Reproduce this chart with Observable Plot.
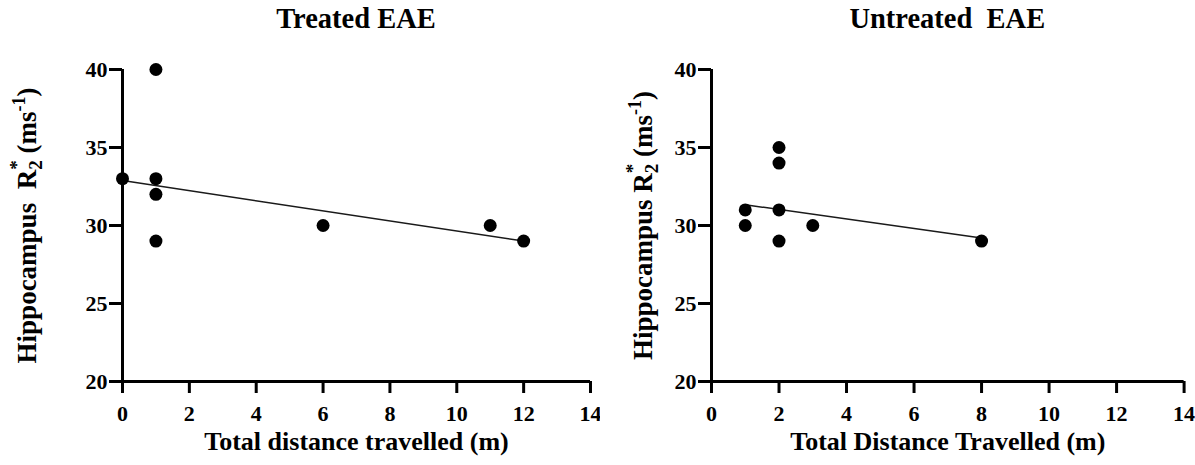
<!DOCTYPE html>
<html>
<head>
<meta charset="utf-8">
<script src="https://cdn.jsdelivr.net/npm/d3@7"></script>
<script src="https://cdn.jsdelivr.net/npm/@observablehq/plot@0.6"></script>
<style>
  html, body { margin: 0; padding: 0; background: white; }
  #page { position: relative; width: 1195px; height: 465px; overflow: hidden; font-family: "Liberation Serif", "Times New Roman", serif; }
  .title { position: absolute; top: 0; height: 38px; line-height: 38px; text-align: center; font-size: 28.5px; font-weight: bold; white-space: pre; color: #000; }
  .panel { position: absolute; top: 40px; }
  .panel svg { overflow: visible; }
</style>
</head>
<body>
<div id="page"></div>
<script>
// Treated EAE: total distance travelled (m) vs hippocampal R2* (ms^-1)
const treatedDist = [0, 1, 1, 1, 1, 6, 11, 12];
const treatedR2 = [33, 40, 33, 32, 29, 30, 30, 29];
// fitted regression line endpoints
const treatedFitDist = [0, 12];
const treatedFitR2 = [32.88, 29.0];

// Untreated EAE
const untreatedDist = [1, 1, 2, 2, 2, 2, 3, 8];
const untreatedR2 = [31, 30, 35, 34, 31, 29, 30, 29];
const untreatedFitDist = [1, 8];
const untreatedFitR2 = [31.33, 29.2];

const xTicks = [0, 2, 4, 6, 8, 10, 12, 14];
const yTicks = [20, 25, 30, 35, 40];

const panelTitles = ["Treated EAE", "Untreated  EAE"];
const xLabels = ["Total distance travelled (m)", "Total Distance Travelled (m)"];
const yLabels = ["Hippocampus  R2* (ms-1)", "Hippocampus R2* (ms-1)"];

const serif = "'Liberation Serif', 'Times New Roman', serif";
const tickFontSize = 22;

function panel({dist, r2, fitDist, fitR2, xLabel, yLabel, width, marginLeft, marginRight, yLabelX}) {
  const points = dist.map((d, i) => ({dist: d, r2: r2[i]}));
  const fit = fitDist.map((d, i) => ({dist: d, r2: fitR2[i]}));
  const textStyle = {fontWeight: "bold", fill: "black"};
  const svg = Plot.plot({
    width,
    height: 425,
    marginTop: 29,
    marginBottom: 84,
    marginLeft,
    marginRight,
    style: {background: "white", color: "black", overflow: "visible"},
    x: {domain: [0, 14]},
    y: {domain: [20, 40]},
    marks: [
      Plot.axisX(xTicks, {tickSize: 12, tickPadding: 12, strokeWidth: 3, label: null, fontSize: tickFontSize, fontWeight: "bold"}),
      Plot.axisY(yTicks, {tickSize: 13, tickPadding: 2, strokeWidth: 3, label: null, fontSize: tickFontSize, fontWeight: "bold"}),
      Plot.ruleY([20], {strokeWidth: 3, stroke: "black"}),
      Plot.ruleX([0], {strokeWidth: 3, stroke: "black"}),
      Plot.line(fit, {x: "dist", y: "r2", stroke: "#1a1a1a", strokeWidth: 1.5}),
      Plot.dot(points, {x: "dist", y: "r2", r: 6.5, fill: "black", stroke: null}),
      Plot.text([xLabel], {...textStyle, text: d => d, frameAnchor: "bottom", textAnchor: "middle", dy: 68, fontSize: 26}),
      Plot.text([yLabel], {...textStyle, text: d => d, frameAnchor: "left", textAnchor: "middle", rotate: -90, dx: yLabelX - marginLeft, fontSize: 27})
    ]
  });
  const root = d3.select(svg);
  // serif bold for every label, set inline so it wins over inherited styles
  root.selectAll("text").style("font-family", serif).style("font-weight", "bold").style("fill", "black");
  // tick numbers
  const tickStrings = new Set([...xTicks, ...yTicks].map(String));
  root.selectAll("text")
    .filter(function() { return tickStrings.has(this.textContent); })
    .style("font-size", tickFontSize + "px")
    .style("font-variant", "normal");
  // typeset R2* with subscript/superscript and the ms^-1 unit
  root.selectAll("text")
    .filter(function() { return this.textContent === yLabel; })
    .each(function() {
      const t = d3.select(this);
      const [head] = yLabel.split("R2*");
      t.text(null);
      t.append("tspan").text(head + "R");
      t.append("tspan").attr("font-size", 19).attr("dy", 6).text("2");
      t.append("tspan").attr("font-size", 19).attr("dx", -9.5).attr("dy", -19).text("*");
      t.append("tspan").attr("dy", 13).text(" (ms");
      t.append("tspan").attr("font-size", 18).attr("dy", -11).text("-1");
      t.append("tspan").attr("dy", 11).text(")");
    });
  return svg;
}

const page = document.getElementById("page");

const layouts = [
  {left: 0, width: 600, marginLeft: 122, marginRight: 10, yLabelX: 27,
   dist: treatedDist, r2: treatedR2, fitDist: treatedFitDist, fitR2: treatedFitR2},
  {left: 600, width: 595, marginLeft: 111, marginRight: 11.4, yLabelX: 43,
   dist: untreatedDist, r2: untreatedR2, fitDist: untreatedFitDist, fitR2: untreatedFitR2}
];

layouts.forEach((L, i) => {
  const title = document.createElement("div");
  title.className = "title";
  title.style.left = (L.left + L.marginLeft) + "px";
  title.style.width = (L.width - L.marginLeft - L.marginRight) + "px";
  title.textContent = panelTitles[i];
  page.appendChild(title);

  const holder = document.createElement("div");
  holder.className = "panel";
  holder.style.left = L.left + "px";
  holder.appendChild(panel({...L, xLabel: xLabels[i], yLabel: yLabels[i]}));
  page.appendChild(holder);
});
</script>
</body>
</html>
